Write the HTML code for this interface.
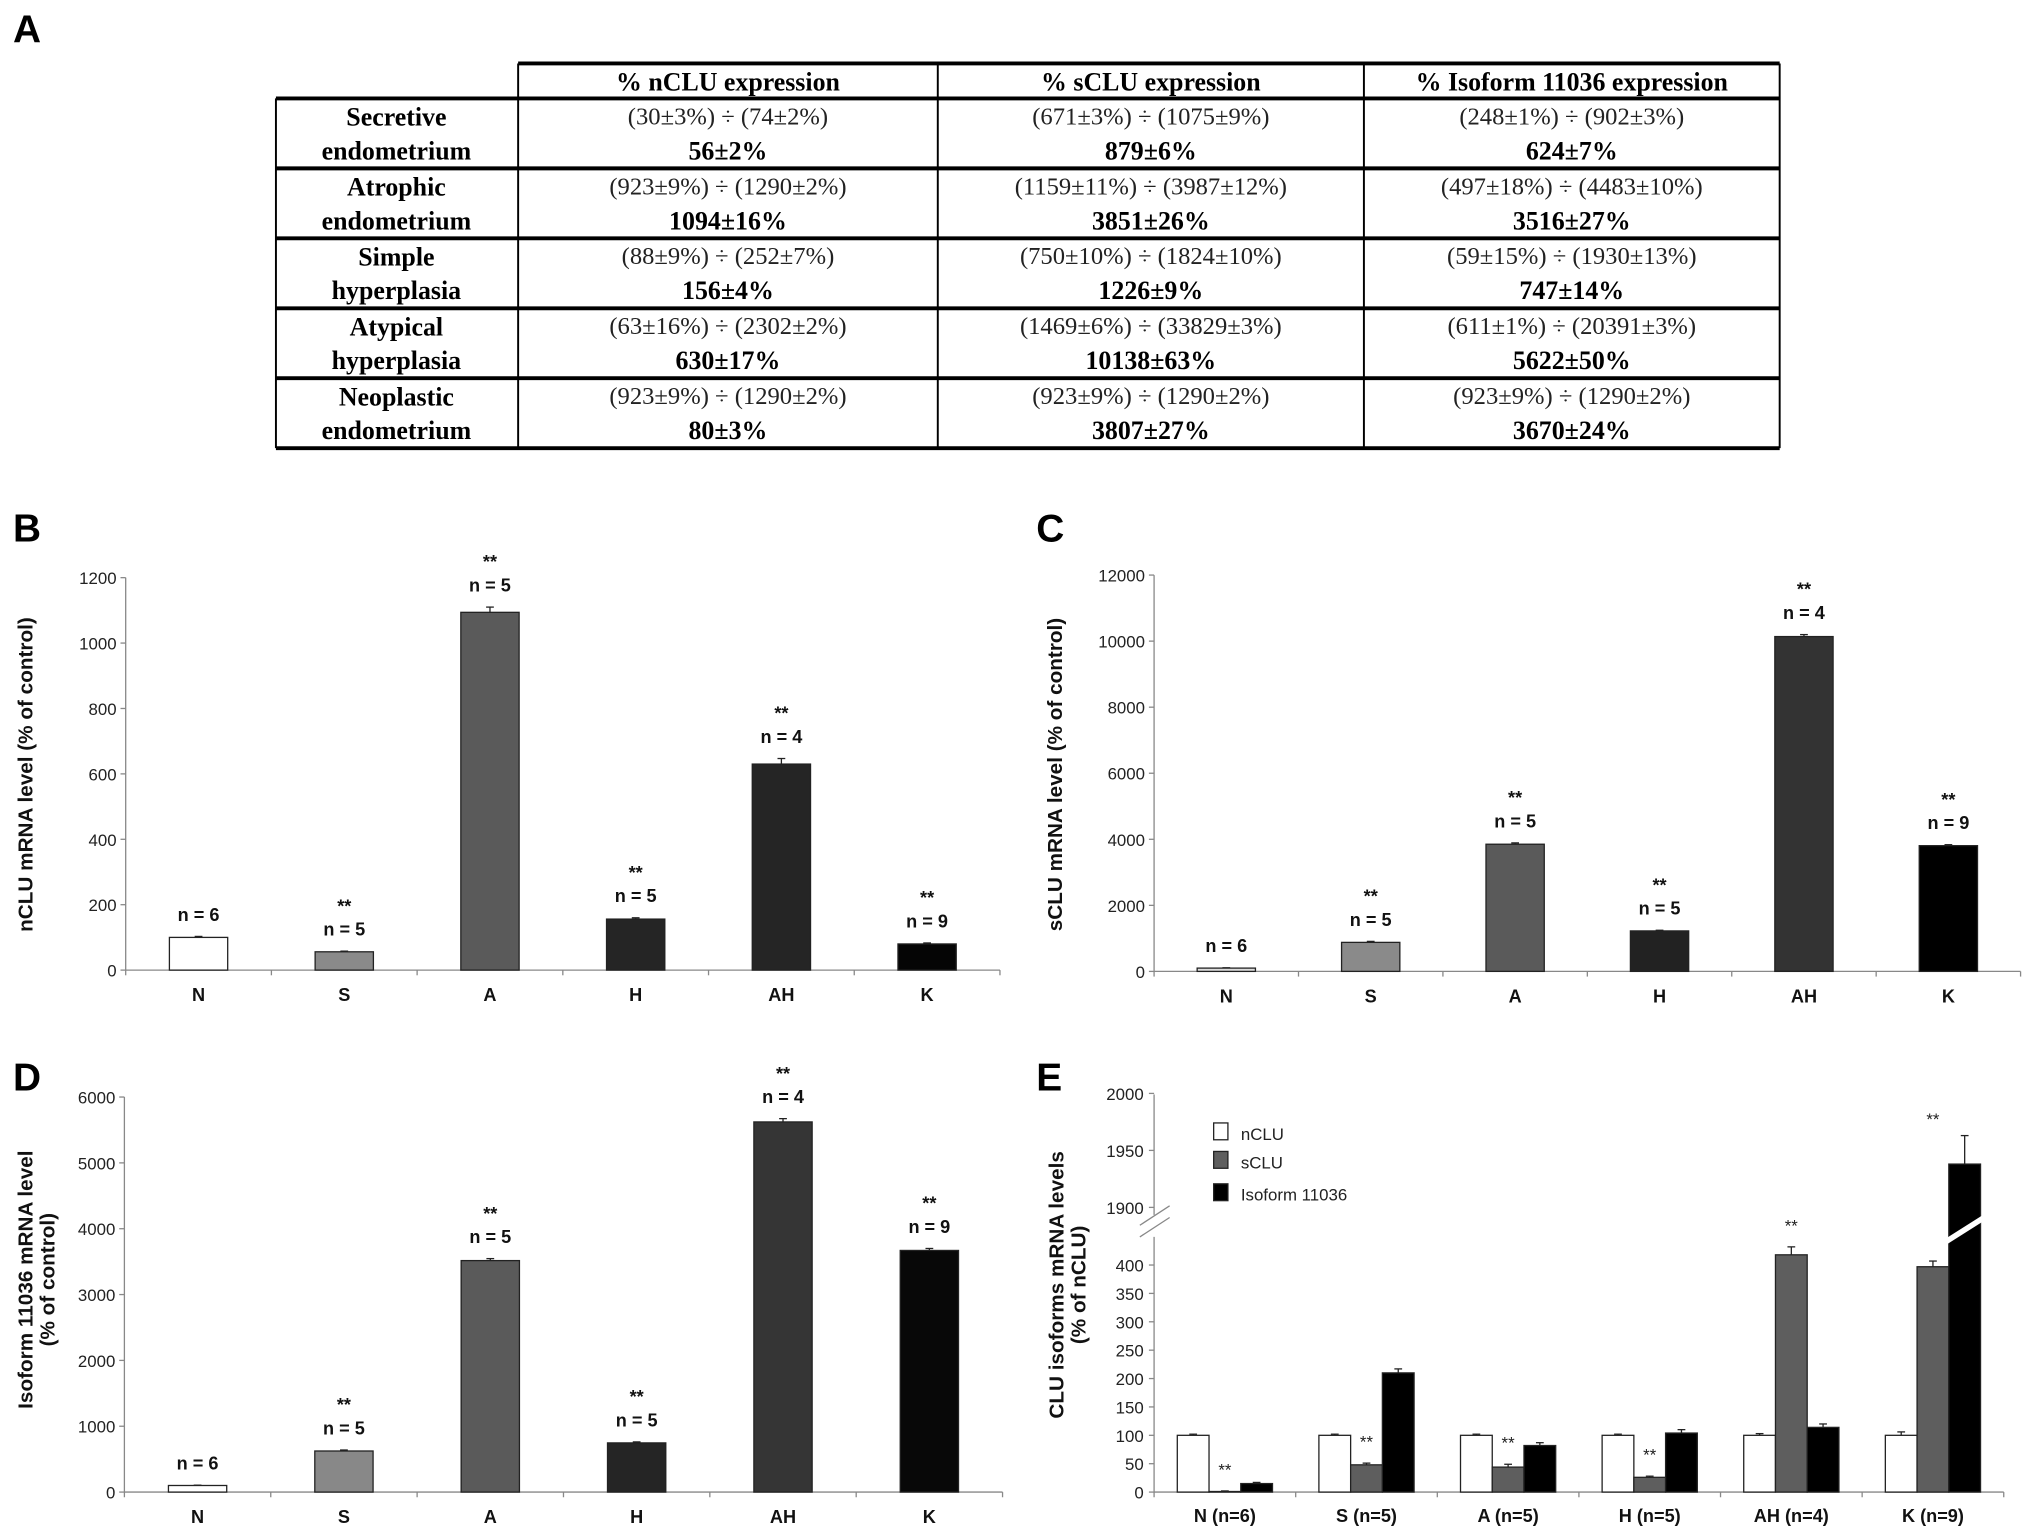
<!DOCTYPE html>
<html><head><meta charset="utf-8"><style>
html,body{margin:0;padding:0;background:#fff}
svg{display:block}
.tk{font-family:"Liberation Sans",Arial,sans-serif;font-size:13px;fill:#222}
.xl{font-family:"Liberation Sans",Arial,sans-serif;font-size:14px;font-weight:bold;fill:#111}
.nl{font-family:"Liberation Sans",Arial,sans-serif;font-size:14px;font-weight:bold;fill:#111}
.yt{font-family:"Liberation Sans",Arial,sans-serif;font-size:16px;font-weight:bold;fill:#111}
.pl{font-family:"Liberation Sans",Arial,sans-serif;font-size:30px;font-weight:bold;fill:#000}
.th{font-family:"Liberation Serif","Times New Roman",serif;font-size:20px;font-weight:bold;fill:#000}
.td{font-family:"Liberation Serif","Times New Roman",serif;font-size:19px;fill:#222}
</style></head><body>
<svg id="fig" width="2031" height="1540" viewBox="0 0 1568 1189" xmlns="http://www.w3.org/2000/svg">
<g id="tableA"></g>
<g id="chartB"></g>
<g id="chartC"></g>
<g id="chartD"></g>
<g id="chartE"></g>
</svg>
<script>
const categories = ["N","S","A","H","AH","K"];
const nLabels = ["n = 6","n = 5","n = 5","n = 5","n = 4","n = 9"];
const starsShown = [false,true,true,true,true,true];
const valuesB = [100,56,1094,156,630,80];
const errorsB = [3,2,16,4,17,3];
const ticksB = [0,200,400,600,800,1000,1200];
const valuesC = [100,879,3851,1226,10138,3807];
const errorsC = [10,30,40,20,60,30];
const ticksC = [0,2000,4000,6000,8000,10000,12000];
const valuesD = [100,624,3516,747,5622,3670];
const errorsD = [5,15,30,15,50,30];
const ticksD = [0,1000,2000,3000,4000,5000,6000];
const categoriesE = ["N (n=6)","S (n=5)","A (n=5)","H (n=5)","AH (n=4)","K (n=9)"];
const seriesNames = ["nCLU","sCLU","Isoform 11036"];
const nCLU = [100,100,100,100,100,100];
const nCLUerr = [2,2,2,2,3,6];
const sCLU = [1,48,44,26,418,397];
const sCLUerr = [1,3,5,2,14,10];
const iso = [15,210,82,104,114,1938];
const isoErr = [2,7,5,6,6,25];
const ticksELow = [0,50,100,150,200,250,300,350,400];
const ticksEHigh = [1900,1950,2000];
const starsE = [true,true,true,true,true,true];

const tableHead = ["% nCLU expression","% sCLU expression","% Isoform 11036  expression"];
const tableRows = [
 ["Secretive","endometrium",["(30±3%) ÷ (74±2%)","56±2%"],["(671±3%) ÷ (1075±9%)","879±6%"],["(248±1%) ÷ (902±3%)","624±7%"]],
 ["Atrophic","endometrium",["(923±9%) ÷ (1290±2%)","1094±16%"],["(1159±11%) ÷ (3987±12%)","3851±26%"],["(497±18%) ÷ (4483±10%)","3516±27%"]],
 ["Simple","hyperplasia",["(88±9%) ÷ (252±7%)","156±4%"],["(750±10%) ÷ (1824±10%)","1226±9%"],["(59±15%) ÷ (1930±13%)","747±14%"]],
 ["Atypical","hyperplasia",["(63±16%) ÷ (2302±2%)","630±17%"],["(1469±6%) ÷ (33829±3%)","10138±63%"],["(611±1%) ÷ (20391±3%)","5622±50%"]],
 ["Neoplastic","endometrium",["(923±9%) ÷ (1290±2%)","80±3%"],["(923±9%) ÷ (1290±2%)","3807±27%"],["(923±9%) ÷ (1290±2%)","3670±24%"]]
];

const NS="http://www.w3.org/2000/svg";
function mk(parent,tag,attrs,text){const e=document.createElementNS(NS,tag);for(const k in attrs)e.setAttribute(k,attrs[k]);if(text!==undefined)e.textContent=text;parent.appendChild(e);return e;}
const fig=document.getElementById('fig');

[["A",10,33],["B",10,418],["C",800,418],["D",10,842],["E",800,842]].forEach(p=>{
  const t=mk(fig,'text',{x:p[1],y:p[2],class:'pl'},p[0]);
  
  
});

(function(){
  const g=document.getElementById('tableA');
  const L=213,R=1374,cols=[400,724,1053,1374];
  const rowY=[76,130,184,238,292,346];
  mk(g,'line',{x1:400,y1:49,x2:R,y2:49,stroke:'#000','stroke-width':3});
  for(let i=0;i<rowY.length;i++) mk(g,'line',{x1:L,y1:rowY[i],x2:R,y2:rowY[i],stroke:'#000','stroke-width':3});
  mk(g,'line',{x1:L,y1:76,x2:L,y2:346,stroke:'#000','stroke-width':1.5});
  cols.forEach(x=>mk(g,'line',{x1:x,y1:49,x2:x,y2:346,stroke:'#000','stroke-width':1.5}));
  tableHead.forEach((h,i)=>{const t=mk(g,'text',{x:(cols[i]+cols[i+1])/2,y:70,class:'th','text-anchor':'middle'},h);
    });
  tableRows.forEach((r,j)=>{
    const y0=rowY[j];
    const a=mk(g,'text',{x:306,y:y0+21,class:'th','text-anchor':'middle'},r[0]);
    
    const b=mk(g,'text',{x:306,y:y0+47,class:'th','text-anchor':'middle'},r[1]);
    
    for(let c=0;c<3;c++){
      const cx=(cols[c]+cols[c+1])/2;
      const t1=mk(g,'text',{x:cx,y:y0+20,class:'td','text-anchor':'middle'},r[2+c][0]);
      
      const t2=mk(g,'text',{x:cx,y:y0+47,class:'th','text-anchor':'middle'},r[2+c][1]);
      
    }
  });
})();

function barChart(id,cfg,vals,errs,ticks,colors){
  const g=document.getElementById(id);
  const {x0,x1,y0,y1,max}=cfg;
  const cw=(x1-x0)/categories.length;
  const yS=v=>y0-(v/max)*(y0-y1);
  mk(g,'line',{x1:x0,y1:y1,x2:x0,y2:y0,stroke:'#888','stroke-width':1});
  mk(g,'line',{x1:x0,y1:y0,x2:x1,y2:y0,stroke:'#888','stroke-width':1});
  ticks.forEach(t=>{const y=yS(t);mk(g,'line',{x1:x0-4,y1:y,x2:x0,y2:y,stroke:'#888'});
    const l=mk(g,'text',{x:x0-7,y:y+5,class:'tk','text-anchor':'end'},String(t));
    });
  for(let i=0;i<=categories.length;i++){const x=x0+i*cw;mk(g,'line',{x1:x,y1:y0,x2:x,y2:y0+4,stroke:'#888'});}
  categories.forEach((c,i)=>{
    const cx=x0+(i+0.5)*cw,bw=45;
    const top=yS(vals[i]);
    const r=mk(g,'rect',{x:cx-bw/2,y:top,width:bw,height:y0-top,fill:colors[i],stroke:'#222','stroke-width':1});
    
    const et=yS(vals[i]+errs[i]);
    mk(g,'line',{x1:cx,y1:top,x2:cx,y2:et,stroke:'#222'});
    mk(g,'line',{x1:cx-3,y1:et,x2:cx+3,y2:et,stroke:'#222'});
    const n=mk(g,'text',{x:cx,y:et-12,class:'nl','text-anchor':'middle'},nLabels[i]);
    
    if(starsShown[i]){const s=mk(g,'text',{x:cx,y:et-30,class:'nl','text-anchor':'middle'},'**');
      }
    const xl=mk(g,'text',{x:cx,y:y0+24,class:'xl','text-anchor':'middle'},c);
    
  });
  return g;
}
const gB=barChart('chartB',{x0:97,x1:772,y0:749,y1:446,max:1200},valuesB,errorsB,ticksB,['#fff','#8a8a8a','#5a5a5a','#252525','#252525','#050505']);
const tB=mk(gB,'text',{class:'yt','text-anchor':'middle',transform:'translate(25,598) rotate(-90)'},'nCLU mRNA level  (% of control)');


const gC=barChart('chartC',{x0:891,x1:1560,y0:750,y1:444,max:12000},valuesC,errorsC,ticksC,['#ddd','#8a8a8a','#5a5a5a','#222','#333','#000']);
const tC=mk(gC,'text',{class:'yt','text-anchor':'middle',transform:'translate(820,598) rotate(-90)'},'sCLU mRNA level  (% of control)');


const gD=barChart('chartD',{x0:96,x1:774,y0:1152,y1:847,max:6000},valuesD,errorsD,ticksD,['#fff','#888','#5a5a5a','#252525','#353535','#080808']);
const tD1=mk(gD,'text',{class:'yt','text-anchor':'middle',transform:'translate(25,988) rotate(-90)'},'Isoform 11036 mRNA level');

const tD2=mk(gD,'text',{class:'yt','text-anchor':'middle',transform:'translate(42,988) rotate(-90)'},'(% of control)');


(function(){
  const g=document.getElementById('chartE');
  const x0=891,x1=1547,y0=1152;
  const cw=(x1-x0)/categoriesE.length;
  const lowPer=(1152-976.7)/400;
  const yS=v=> v<=450 ? y0-v*lowPer : 932.2-(v-1900)*44/50;
  mk(g,'line',{x1:x0,y1:845,x2:x0,y2:938,stroke:'#888'});
  mk(g,'line',{x1:x0,y1:955,x2:x0,y2:y0,stroke:'#888'});
  mk(g,'line',{x1:880,y1:946,x2:903,y2:931,stroke:'#888'});
  mk(g,'line',{x1:880,y1:955,x2:903,y2:940,stroke:'#888'});
  mk(g,'line',{x1:x0,y1:y0,x2:x1,y2:y0,stroke:'#888'});
  ticksELow.concat(ticksEHigh).forEach(t=>{const y=yS(t);mk(g,'line',{x1:x0-4,y1:y,x2:x0,y2:y,stroke:'#888'});
    const l=mk(g,'text',{x:x0-8,y:y+5,class:'tk','text-anchor':'end'},String(t));
    });
  for(let i=0;i<=categoriesE.length;i++){const x=x0+i*cw;mk(g,'line',{x1:x,y1:y0,x2:x,y2:y0+4,stroke:'#888'});}
  const series=[nCLU,sCLU,iso],errs=[nCLUerr,sCLUerr,isoErr],cols=['#fff','#5e5e5e','#000'];
  const bw=24.5;
  categoriesE.forEach((c,i)=>{
    const gx=x0+i*cw+(cw-3*bw)/2;
    series.forEach((s,k)=>{
      const x=gx+k*bw,top=yS(s[i]);
      const r=mk(g,'rect',{x:x,y:top,width:bw,height:y0-top,fill:cols[k],stroke:'#222','stroke-width':1});
      
      
      if(s[i]>450){const by=948;mk(g,'polygon',{points:`${x-2},${by+8} ${x+bw+2},${by-10} ${x+bw+2},${by-5} ${x-2},${by+13}`,fill:'#fff'});}
      const et=yS(s[i]+errs[k][i]),cx=x+bw/2;
      mk(g,'line',{x1:cx,y1:top,x2:cx,y2:et,stroke:'#222'});
      mk(g,'line',{x1:cx-3,y1:et,x2:cx+3,y2:et,stroke:'#222'});
    });
    if(starsE[i]){
      const sx=gx+1.5*bw;
      const ref=i===5?yS(iso[i]+isoErr[i])-8:yS(sCLU[i]+sCLUerr[i])-12;
      const s=mk(g,'text',{x:sx,y:ref,class:'tk','text-anchor':'middle','font-size':'11'},'**');
      
    }
    const xl=mk(g,'text',{x:x0+(i+0.5)*cw,y:y0+23,class:'xl','text-anchor':'middle'},c);
    
  });
  const ly=[874,896,921];
  seriesNames.forEach((n,k)=>{
    const r=mk(g,'rect',{x:937,y:ly[k]-7,width:11,height:13,fill:cols[k],stroke:'#222','stroke-width':1});
    
    const t=mk(g,'text',{x:958,y:ly[k]+6,class:'tk','font-size':'17'},n);
    
  });
  const t1=mk(g,'text',{class:'yt','text-anchor':'middle',transform:'translate(821,992) rotate(-90)'},'CLU isoforms mRNA levels');
  
  const t2=mk(g,'text',{class:'yt','text-anchor':'middle',transform:'translate(838,992) rotate(-90)'},'(% of nCLU)');
  
})();
</script>
</body></html>
